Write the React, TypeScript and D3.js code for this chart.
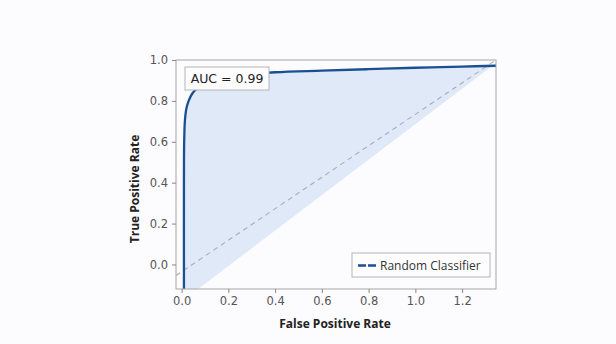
import * as d3 from "d3";
import { useEffect, useRef } from "react";

// ROC curve
const rocFpr = [0.01, 0.01, 0.011, 0.014, 0.02, 0.03, 0.045, 0.065, 0.1, 0.15, 0.25, 0.4, 0.6, 0.8, 1.0, 1.2, 1.345];
const rocTpr = [-0.12, 0.4, 0.6, 0.7, 0.76, 0.8, 0.835, 0.86, 0.885, 0.905, 0.925, 0.94, 0.948, 0.955, 0.962, 0.968, 0.972];

// lower edge of the shaded band
const bandFpr = [1.345, 0.07, 0.01];
const bandTpr = [0.985, -0.12, -0.12];

// random classifier diagonal
const diagFpr = [-0.024, 1.345];
const diagTpr = [-0.054, 1.0];

const xTicks = [0, 0.2, 0.4, 0.6, 0.8, 1.0, 1.2];
const yTicks = [0, 0.2, 0.4, 0.6, 0.8, 1.0];
const aucLabel = "AUC = 0.99";
const legendLabel = "Random Classifier";

const W = 616;
const H = 344;
const margin = { top: 60, right: 120, bottom: 55, left: 176 };

export default function App() {
  const svgRef = useRef<SVGSVGElement>(null);

  useEffect(() => {
    const svg = d3.select(svgRef.current);
    svg.selectAll("*").remove();

    const x = d3.scaleLinear().domain([-0.024, 1.345]).range([margin.left, W - margin.right]);
    const y = d3.scaleLinear().domain([-0.12, 1.0]).range([H - margin.bottom, margin.top]);

    svg.append("rect").attr("width", W).attr("height", H).attr("fill", "#fcfbfd");

    const clip = svg.append("clipPath").attr("id", "plotclip");
    clip
      .append("rect")
      .attr("x", margin.left)
      .attr("y", margin.top)
      .attr("width", W - margin.left - margin.right)
      .attr("height", H - margin.top - margin.bottom);

    const plot = svg.append("g").attr("clip-path", "url(#plotclip)");

    const roc: [number, number][] = rocFpr.map((f, i) => [f, rocTpr[i]]);
    const band: [number, number][] = bandFpr.map((f, i) => [f, bandTpr[i]]);
    const line = d3
      .line<[number, number]>()
      .x((d) => x(d[0]))
      .y((d) => y(d[1]));
    const curve = d3
      .line<[number, number]>()
      .x((d) => x(d[0]))
      .y((d) => y(d[1]))
      .curve(d3.curveCatmullRom.alpha(0.5));

    plot
      .append("path")
      .attr("d", curve(roc) + line(band)!.replace("M", "L") + "Z")
      .attr("fill", "#dce7f7")
      .attr("opacity", 0.9);

    plot
      .append("path")
      .attr("d", line(diagFpr.map((f, i) => [f, diagTpr[i]]) as [number, number][]))
      .attr("fill", "none")
      .attr("stroke", "#a9aeb6")
      .attr("stroke-width", 1.1)
      .attr("stroke-dasharray", "5,4");

    plot
      .append("path")
      .attr("d", curve(roc))
      .attr("fill", "none")
      .attr("stroke", "#1b4f93")
      .attr("stroke-width", 2.3);

    // frame
    svg
      .append("rect")
      .attr("x", margin.left)
      .attr("y", margin.top)
      .attr("width", W - margin.left - margin.right)
      .attr("height", H - margin.top - margin.bottom)
      .attr("fill", "none")
      .attr("stroke", "#a6a6a6")
      .attr("stroke-width", 1);

    const xAxis = svg
      .append("g")
      .attr("transform", `translate(0,${H - margin.bottom})`)
      .call(d3.axisBottom(x).tickValues(xTicks).tickFormat(d3.format(".1f")).tickSize(4).tickPadding(4));
    const yAxis = svg
      .append("g")
      .attr("transform", `translate(${margin.left},0)`)
      .call(d3.axisLeft(y).tickValues(yTicks).tickFormat(d3.format(".1f")).tickSize(4).tickPadding(4));
    [xAxis, yAxis].forEach((a) => {
      a.select(".domain").remove();
      a.selectAll("line").attr("stroke", "#888");
      a.selectAll("text")
        .attr("fill", "#555")
        .attr("font-family", "DejaVu Sans")
        .attr("font-size", 11.5);
    });

    // AUC box
    const ax = 185;
    const ay = 67;
    svg
      .append("rect")
      .attr("x", ax)
      .attr("y", ay)
      .attr("width", 84)
      .attr("height", 23)
      .attr("fill", "#fdfdfe")
      .attr("stroke", "#b5b5b5");
    svg
      .append("text")
      .attr("x", ax + 42)
      .attr("y", ay + 16)
      .attr("text-anchor", "middle")
      .attr("font-family", "DejaVu Sans")
      .attr("font-size", 12.5)
      .attr("fill", "#222")
      .text(aucLabel);

    // legend
    const lx = 352;
    const ly = 253;
    svg
      .append("rect")
      .attr("x", lx)
      .attr("y", ly)
      .attr("width", 138)
      .attr("height", 24)
      .attr("fill", "#fdfdfe")
      .attr("stroke", "#b5b5b5");
    svg
      .append("line")
      .attr("x1", lx + 6)
      .attr("x2", lx + 24)
      .attr("y1", ly + 12.5)
      .attr("y2", ly + 12.5)
      .attr("stroke", "#1b4f93")
      .attr("stroke-width", 2.5)
      .attr("stroke-dasharray", "8,2");
    svg
      .append("text")
      .attr("x", lx + 28)
      .attr("y", ly + 16.5)
      .attr("font-family", "Open Sans")
      .attr("font-size", 12)
      .attr("fill", "#333")
      .text(legendLabel);

    // axis titles
    svg
      .append("text")
      .attr("x", 335)
      .attr("y", 328)
      .attr("text-anchor", "middle")
      .attr("font-family", "Open Sans")
      .attr("font-weight", "bold")
      .attr("font-size", 12)
      .attr("fill", "#222")
      .text("False Positive Rate");
    svg
      .append("text")
      .attr("transform", "translate(139,189) rotate(-90)")
      .attr("text-anchor", "middle")
      .attr("font-family", "Open Sans")
      .attr("font-weight", "bold")
      .attr("font-size", 12)
      .attr("fill", "#222")
      .text("True Positive Rate");
  }, []);

  return (
    <div style={{ position: "absolute", left: 0, top: 0 }}>
      <svg ref={svgRef} width={W} height={H} style={{ display: "block" }} />
    </div>
  );
}
